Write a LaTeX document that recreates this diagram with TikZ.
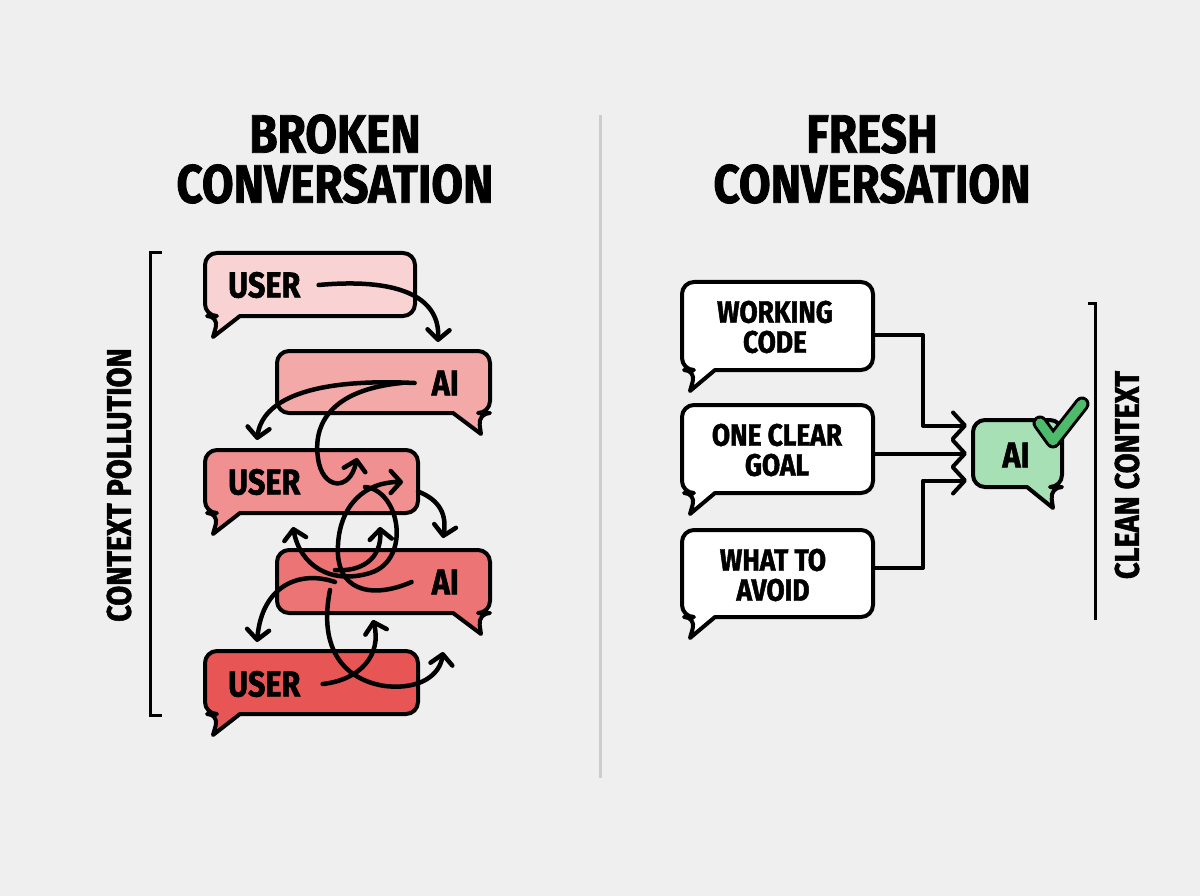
\documentclass[tikz,border=0pt]{standalone}
\usepackage{fontspec}
\setmainfont{Fira Sans}[FakeStretch=0.85, BoldFeatures={FakeBold=1.5}]
\usetikzlibrary{arrows.meta}
\definecolor{bgcol}{HTML}{EFEFEF}
\definecolor{divcol}{HTML}{CDCDCD}
\definecolor{uone}{HTML}{F9D3D3}
\definecolor{aone}{HTML}{F4A9A9}
\definecolor{utwo}{HTML}{F09090}
\definecolor{atwo}{HTML}{EC7474}
\definecolor{uthree}{HTML}{E85555}
\definecolor{aigreen}{HTML}{A6E0B4}
\definecolor{chkgreen}{HTML}{4DBA6C}
\tikzset{
  body/.style={rectangle, draw=none, inner sep=0pt, outer sep=0pt},
  bub/.style={draw=black, line width=4pt, line join=round},
  lbl/.style={font=\bfseries\fontsize{36}{36}\selectfont, inner sep=0pt},
  rlbl/.style={font=\bfseries\fontsize{31}{30}\selectfont, inner sep=0pt, align=center},
  ttl/.style={font=\bfseries\fontsize{54}{48}\selectfont, inner sep=0pt},
  side/.style={font=\bfseries\fontsize{34}{34}\selectfont, inner sep=0pt},
  tang/.style={line width=4.5pt, line cap=round, -{Straight Barb[length=10pt,width=22pt,line width=4.5pt,round]}},
  conn/.style={line width=4pt, line join=round, -{Straight Barb[length=12pt,width=26pt,line width=4pt,round]}, shorten >=6pt},
  brk/.style={line width=3pt},
}
% bubble with tail at bottom left
\newcommand\bubleft[3]{%
  \filldraw[bub, fill=#2] ([xshift=#3pt]#1.south west) [rounded corners=12pt] -- (#1.south east) -- (#1.north east) -- (#1.north west) -- (#1.south west) -- ([xshift=14pt]#1.south west) [sharp corners] -- ([xshift=8pt,yshift=-21pt]#1.south west) -- cycle;}
% bubble with tail at bottom right
\newcommand\bubright[3]{%
  \filldraw[bub, fill=#2] ([xshift=-#3pt]#1.south east) [rounded corners=12pt] -- (#1.south west) -- (#1.north west) -- (#1.north east) -- (#1.south east) -- ([xshift=-12pt]#1.south east) [sharp corners] -- ([xshift=-9pt,yshift=-21pt]#1.south east) -- cycle;}
\begin{document}
\begin{tikzpicture}[x=1pt,y=-1pt]
\fill[bgcol] (0,0) rectangle (1200,896);
\useasboundingbox (0,0) rectangle (1200,896);

% divider
\draw[divcol, line width=3pt] (600,115) -- (600,778);

% titles
\node[ttl] (t1a) at (335,134) {BROKEN};
\node[ttl] (t1b) at (335,184) {CONVERSATION};
\node[ttl] (t2a) at (872,134) {FRESH};
\node[ttl] (t2b) at (872,184) {CONVERSATION};

% ---------- left side ----------
\draw[brk] (162,253) -- (150,253) -- (150,715) -- (162,715);
\node[side, rotate=90] (cp) at (119,485) {CONTEXT POLLUTION};

\node[body, minimum width=210pt, minimum height=63pt] (u1) at (310,284.5) {};
\node[body, minimum width=213pt, minimum height=62pt] (a1) at (383.5,382) {};
\node[body, minimum width=213pt, minimum height=63pt] (u2) at (311.5,481.5) {};
\node[body, minimum width=213pt, minimum height=63pt] (a2) at (383.5,581.5) {};
\node[body, minimum width=213pt, minimum height=63pt] (u3) at (311.5,682.5) {};

\bubleft{u1}{uone}{35}
\bubright{a1}{aone}{37}
\bubleft{u2}{utwo}{35}
\bubright{a2}{atwo}{37}
\bubleft{u3}{uthree}{35}

\node[lbl, anchor=west] (u1t) at (228,285) {USER};
\node[lbl, anchor=east] (a1t) at (459,383) {AI};
\node[lbl, anchor=west] (u2t) at (228,482) {USER};
\node[lbl, anchor=east] (a2t) at (459,582) {AI};
\node[lbl, anchor=west] (u3t) at (228,684) {USER};

% tangle end points
\coordinate (e1) at (438,342);
\coordinate (e2) at (257,440);
\coordinate (e3) at (357,458);
\coordinate (e4) at (403,482);
\coordinate (e5) at (293,527);
\coordinate (e6) at (380,527);
\coordinate (e7) at (443,538);
\coordinate (e8) at (257,642);
\coordinate (e9) at (443,652);
\coordinate (e10) at (373,620);

\draw[tang] ([xshift=18pt]u1t.east) .. controls (395,278) and (440,295) .. (e1);
\draw[tang] ([xshift=-17pt]a1t.west) .. controls (310,378) and (262,400) .. (e2);
\draw[tang] ([xshift=-30pt]a1t.west) .. controls (330,390) and (313,425) .. (318,458) .. controls (322,490) and (350,492) .. (e3);
\draw[tang] ([xshift=-20pt]a2t.west) .. controls (370,600) and (335,590) .. (338,545) .. controls (340,505) and (365,482) .. (e4);
\draw[tang] (365,487) .. controls (400,490) and (412,560) .. (370,573) .. controls (330,585) and (300,565) .. (e5);
\draw[tang] (335,570) .. controls (360,572) and (382,560) .. (e6);
\draw[tang] ([yshift=-10pt]u2.east) .. controls (440,500) and (447,515) .. (e7);
\draw[tang] (335,582) .. controls (300,570) and (262,585) .. (e8);
\draw[tang] (330,590) .. controls (318,650) and (345,680) .. (385,686) .. controls (420,690) and (440,675) .. (e9);
\draw[tang] ([xshift=22pt]u3t.east) .. controls (360,680) and (382,655) .. (e10);

% ---------- right side ----------
\draw[brk] (1088,303) -- (1095,303) -- (1095,620);
\node[side, rotate=90] (cc) at (1127,475) {CLEAN CONTEXT};

\node[body, minimum width=191pt, minimum height=88pt] (wc) at (777.5,326) {};
\node[body, minimum width=191pt, minimum height=88pt] (og) at (777.5,449) {};
\node[body, minimum width=191pt, minimum height=87pt] (wa) at (777.5,573.5) {};
\node[body, minimum width=89pt, minimum height=67pt] (ai) at (1017.5,453.5) {};

\bubleft{wc}{white}{33}
\bubleft{og}{white}{33}
\bubleft{wa}{white}{33}
\bubright{ai}{aigreen}{35}

\node[rlbl] (wct) at (775,327) {WORKING\\CODE};
\node[rlbl] (ogt) at (777,450) {ONE CLEAR\\GOAL};
\node[rlbl] (wat) at (773,575) {WHAT TO\\AVOID};
\node[lbl] (ait) at (1016,455) {AI};

\draw[conn] ([yshift=-9pt]wc.east) -| ([xshift=-50pt,yshift=28pt]ai.west) -- ([yshift=28pt]ai.west);
\draw[conn] (og.east |- ai.west) -- (ai.west);
\draw[conn] ([yshift=5.5pt]wa.east) -| ([xshift=-50pt,yshift=-27pt]ai.west) -- ([yshift=-27pt]ai.west);

% check mark
\coordinate (c1) at (1040,423);
\coordinate (c2) at (1053,441);
\coordinate (c3) at (1082,404);
\draw[line width=15pt, line cap=round, line join=round] (c1) -- (c2) -- (c3);
\draw[chkgreen, line width=9pt, line cap=round, line join=round] (c1) -- (c2) -- (c3);
\end{tikzpicture}
\end{document}
